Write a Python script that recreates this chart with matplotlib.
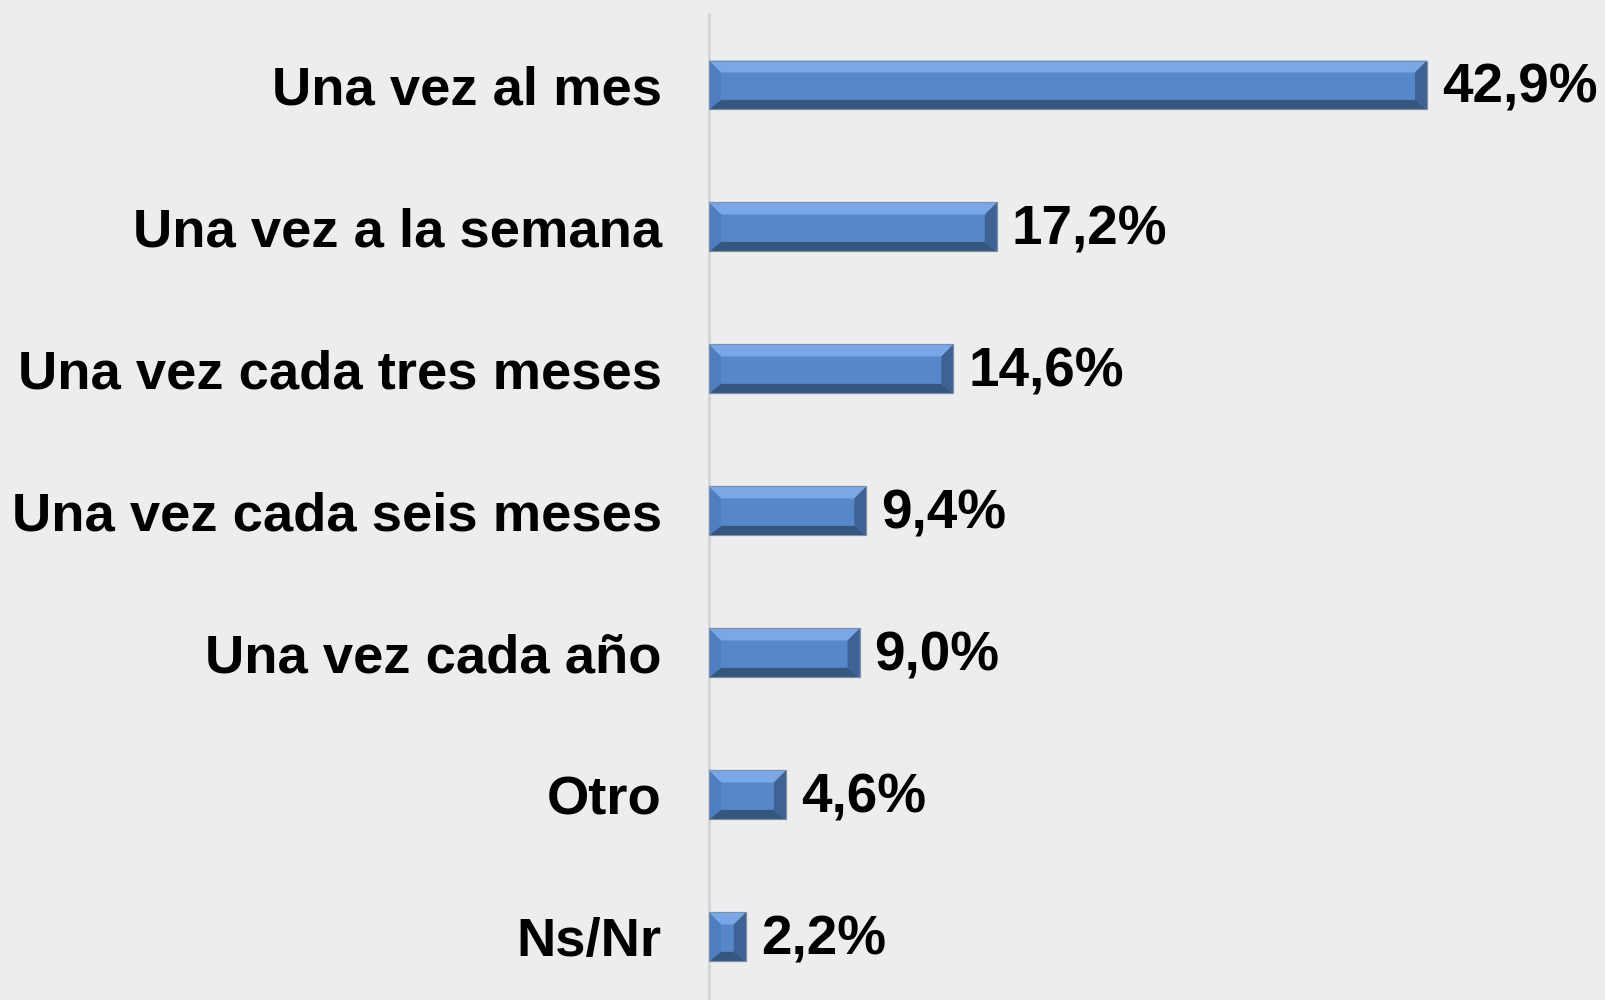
import matplotlib
matplotlib.use("Agg")
import matplotlib.pyplot as plt
from matplotlib.patches import Polygon, Rectangle

categories = ["Una vez al mes", "Una vez a la semana", "Una vez cada tres meses",
              "Una vez cada seis meses", "Una vez cada año", "Otro", "Ns/Nr"]
values = [42.9, 17.2, 14.6, 9.4, 9.0, 4.6, 2.2]
labels = ["42,9%", "17,2%", "14,6%", "9,4%", "9,0%", "4,6%", "2,2%"]

BG = "#ECEDEF"
FACE = "#5687C8"
TOP = "#7AA8E6"
LEFT = "#4E7EC0"
BOTTOM = "#35577F"
RIGHT = "#3E6294"

plt.rcParams['font.family'] = ['Liberation Sans', 'DejaVu Sans']

fig = plt.figure(figsize=(16.06, 10.0), dpi=100, facecolor=BG)
ax = fig.add_axes([709/1606, 0.0, 1 - 709/1606, 0.986])
ax.set_facecolor(BG)

ypos = list(range(len(categories)))
bh = 0.345
bars = ax.barh(ypos, values, height=bh, color=FACE, edgecolor="#7F8FA3", linewidth=0.8, zorder=2)
ax.set_xlim(0, 53.6)
ax.set_ylim(6.444, -0.5)

for s in ["top", "right", "bottom"]:
    ax.spines[s].set_visible(False)
ax.spines["left"].set_color("#D4D4D6")
ax.spines["left"].set_linewidth(2)
ax.set_xticks([])
ax.set_yticks(ypos)
ax.set_yticklabels(categories, fontsize=39.2, fontweight="bold")
ax.tick_params(axis="y", length=0, pad=34)

fig.canvas.draw()
bv = 12
for rect, lab in zip(bars, labels):
    x0, y0 = rect.get_x(), rect.get_y()
    w, h = rect.get_width(), rect.get_height()
    (px0, py0) = ax.transData.transform((x0, y0 + h))
    (px1, py1) = ax.transData.transform((x0 + w, y0))
    b = min(bv, (px1 - px0) / 2.2, (py1 - py0) / 2.2)
    polys = [
        ([(px0, py1), (px1, py1), (px1 - b, py1 - b), (px0 + b, py1 - b)], TOP),
        ([(px0, py0), (px1, py0), (px1 - b, py0 + b * 0.8), (px0 + b, py0 + b * 0.8)], BOTTOM),
        ([(px0, py0), (px0, py1), (px0 + b, py1 - b), (px0 + b, py0 + b * 0.8)], LEFT),
        ([(px1, py0), (px1, py1), (px1 - b, py1 - b), (px1 - b, py0 + b * 0.8)], RIGHT),
    ]
    for pts, c in polys:
        fig.patches.append(Polygon(pts, closed=True, facecolor=c, edgecolor="none",
                                   transform=None, zorder=3))
    fig.patches.append(Rectangle((px0, py0), px1 - px0, py1 - py0, fill=False,
                                 edgecolor="#7F8FA3", linewidth=0.8, transform=None, zorder=4))
    ax.annotate(lab, xy=(x0 + w, y0 + h / 2), xytext=(15, -4), textcoords="offset pixels",
                ha="left", va="center", fontsize=39.5, fontweight="bold", color="black")

fig.savefig("out.png", dpi=100, facecolor=BG)
